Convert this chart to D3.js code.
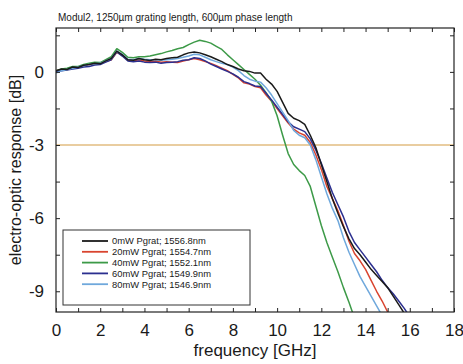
<!DOCTYPE html>
<html><head><meta charset="utf-8">
<script src="https://cdn.jsdelivr.net/npm/d3@7"></script>
<style>body{margin:0;background:#fff;} svg{display:block;} text{font-family:"Liberation Sans",Arial,sans-serif;fill:#1a1a1a;}</style>
</head><body><svg id="c" width="463" height="364"></svg>
<script>
// frequency grid (GHz), 0.25 GHz step
const freq = d3.range(0, 16.001, 0.25);
const seriesNames = ["0mW Pgrat; 1556.8nm","20mW Pgrat; 1554.7nm","40mW Pgrat; 1552.1nm","60mW Pgrat; 1549.9nm","80mW Pgrat; 1546.9nm"];
const seriesColors = ["#1a1a1a","#d9442f","#3d9a48","#2b2f8f","#6fa8dc"];
const s0mW = [0.05,0.12,0.1,0.2,0.18,0.27,0.3,0.35,0.33,0.45,0.55,0.85,0.7,0.5,0.48,0.55,0.5,
  0.47,0.52,0.5,0.55,0.58,0.6,0.7,0.78,0.82,0.78,0.7,0.62,0.52,0.42,0.3,0.22,0.12,0.05,0.02,-0.05,-0.05,
  -0.3,-0.5,-0.8,-1.25,-1.7,-1.9,-2.0,-2.15,-2.6,-3.1,-3.8,-4.5,-5.2,-5.8,-6.35,-6.85,-7.25,-7.5,-7.8,
  -8.1,-8.35,-8.6,-8.85,-9.2,-9.55,-9.9,-10.3];
const s20mW = [0.05,0.1,0.12,0.18,0.2,0.25,0.3,0.33,0.35,0.42,0.5,0.8,0.68,0.48,0.45,0.5,0.45,
  0.42,0.45,0.4,0.42,0.4,0.38,0.45,0.5,0.55,0.5,0.42,0.35,0.25,0.15,0.05,-0.1,-0.25,-0.45,-0.5,-0.6,-0.65,
  -0.95,-1.2,-1.5,-1.8,-2.1,-2.35,-2.5,-2.6,-2.9,-3.4,-4.0,-4.7,-5.2,-5.7,-6.3,-6.95,-7.45,-7.75,-8.1,
  -8.55,-9.0,-9.4,-9.85,-10.3,null,null,null];
const s40mW = [0.05,0.12,0.15,0.22,0.22,0.3,0.35,0.4,0.38,0.5,0.62,0.95,0.8,0.6,0.58,0.62,0.62,
  0.65,0.7,0.75,0.82,0.88,0.95,1.0,1.12,1.22,1.3,1.25,1.18,1.05,0.92,0.7,0.5,0.3,0.1,-0.1,-0.3,-0.55,
  -0.85,-1.2,-1.8,-2.6,-3.35,-3.8,-4.05,-4.25,-4.7,-5.5,-6.3,-7.0,-7.6,-8.2,-8.85,-9.45,-10.1,
  null,null,null,null,null,null,null,null,null,null];
const s60mW = [0.0,0.05,0.08,0.12,0.15,0.2,0.22,0.28,0.3,0.4,0.5,0.82,0.65,0.45,0.42,0.45,0.4,
  0.38,0.4,0.35,0.38,0.4,0.42,0.48,0.5,0.58,0.55,0.45,0.32,0.22,0.12,0.02,-0.08,-0.22,-0.4,-0.48,-0.58,-0.6,
  -0.88,-1.15,-1.45,-1.75,-2.05,-2.25,-2.35,-2.45,-2.75,-3.2,-3.75,-4.35,-4.95,-5.45,-5.95,-6.55,-7.0,-7.3,-7.6,
  -7.9,-8.2,-8.55,-8.85,-9.1,-9.4,-9.7,-10.05];
const s80mW = [-0.05,0.05,0.1,0.15,0.2,0.25,0.3,0.33,0.35,0.45,0.55,0.85,0.72,0.52,0.5,0.55,0.52,
  0.5,0.5,0.48,0.5,0.52,0.55,0.6,0.65,0.72,0.7,0.6,0.5,0.42,0.35,0.3,0.2,0.05,-0.15,-0.3,-0.38,-0.42,
  -0.65,-0.95,-1.3,-1.65,-2.0,-2.4,-2.6,-2.7,-3.0,-3.6,-4.3,-5.0,-5.6,-6.1,-6.8,-7.4,-7.9,-8.4,-8.8,
  -9.2,-9.6,-10.0,-10.4,null,null,null,null];
const seriesValues = [s0mW, s20mW, s40mW, s60mW, s80mW];
const xTickLabels = [0,2,4,6,8,10,12,14,16,18];
const yTickLabels = [0,-3,-6,-9];
const refLevel = -3;
const title = "Modul2, 1250µm grating length, 600µm phase length";

const svg = d3.select("#c");
const L=56, R=454, T=28, B=312;
const x = d3.scaleLinear().domain([0,18]).range([L,R]);
const y = d3.scaleLinear().domain([-9.85,1.8]).range([B,T]);

svg.append("defs").append("clipPath").attr("id","clip")
  .append("rect").attr("x",L).attr("y",T).attr("width",R-L).attr("height",B-T);

// -3 dB reference line
svg.append("line").attr("x1",L).attr("x2",R).attr("y1",y(refLevel)).attr("y2",y(refLevel))
  .attr("stroke","#e2bc80").attr("stroke-width",1.3);

// curves
const line = d3.line().defined(d=>d[1]!==null).x(d=>x(d[0])).y(d=>y(d[1]));
const g = svg.append("g").attr("clip-path","url(#clip)");
seriesValues.forEach((vals,i)=>{
  g.append("path").datum(freq.map((f,j)=>[f,vals[j]]))
   .attr("d",line).attr("fill","none").attr("stroke",seriesColors[i])
   .attr("stroke-width",1.5).attr("stroke-linejoin","round");
});
g.selectAll("path").filter((d,i)=>i===0).raise();

// axes (inward ticks on all sides)
const xTicks = d3.range(0,18.001,1);
const yTicks = d3.range(-9,1.8,1.5);
const axB = d3.axisBottom(x).tickValues(xTicks).tickSizeInner(-4).tickSizeOuter(0)
  .tickFormat(d=>xTickLabels.includes(d)?d:"").tickPadding(12);
const axT = d3.axisTop(x).tickValues(xTicks).tickSizeInner(-4).tickSizeOuter(0).tickFormat("");
const axL = d3.axisLeft(y).tickValues(yTicks).tickSizeInner(-4).tickSizeOuter(0)
  .tickFormat(d=>yTickLabels.includes(d)?d:"").tickPadding(12);
const axR = d3.axisRight(y).tickValues(yTicks).tickSizeInner(-4).tickSizeOuter(0).tickFormat("");
[[axB,`translate(0,${B})`],[axT,`translate(0,${T})`],[axL,`translate(${L},0)`],[axR,`translate(${R},0)`]].forEach(([a,t])=>{
  const gg = svg.append("g").attr("transform",t).call(a);
  gg.select(".domain").remove();
  gg.selectAll("line").attr("stroke","#222");
  gg.selectAll("text").style("font-size","17px").attr("fill","#1a1a1a");
});
svg.append("rect").attr("x",L).attr("y",T).attr("width",R-L).attr("height",B-T)
  .attr("fill","none").attr("stroke","#222").attr("stroke-width",1.2);

// titles
svg.append("text").attr("x",L+2).attr("y",21).style("font-size","10px").text(title);
svg.append("text").attr("x",(L+R)/2).attr("y",356).attr("text-anchor","middle")
  .style("font-size","17px").text("frequency [GHz]");
svg.append("text").attr("transform",`translate(21,${(T+B)/2}) rotate(-90)`).attr("text-anchor","middle")
  .style("font-size","16px").text("electro-optic response [dB]");

// legend
const lg = svg.append("g");
lg.append("rect").attr("x",63).attr("y",230).attr("width",187).attr("height",75)
  .attr("fill","#fff").attr("stroke","#333").attr("stroke-width",1);
seriesNames.forEach((n,i)=>{
  const yy = 241 + i*10.8;
  lg.append("line").attr("x1",82).attr("x2",108).attr("y1",yy).attr("y2",yy)
    .attr("stroke",seriesColors[i]).attr("stroke-width",1.8);
  lg.append("text").attr("x",112).attr("y",yy+3.3).style("font-size","9.4px").text(n);
});
</script></body></html>
